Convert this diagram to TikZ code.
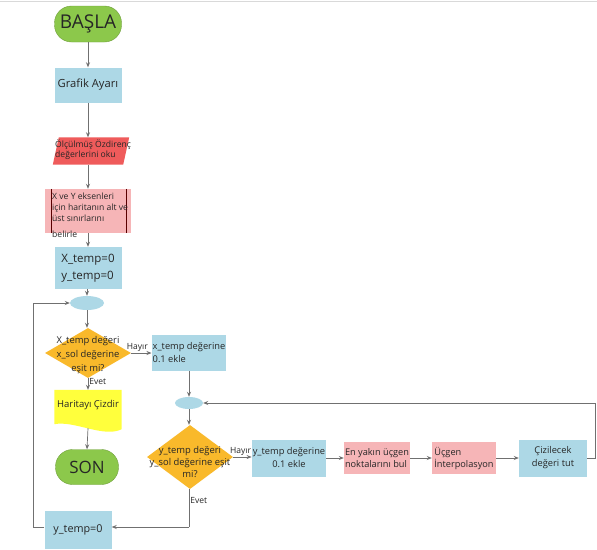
\documentclass[tikz,border=0pt]{standalone}
\usepackage{fontspec}
\setmainfont{Open Sans}
\usetikzlibrary{shapes.geometric,arrows.meta}
\definecolor{tgreen}{HTML}{8CC84B}
\definecolor{lblue}{HTML}{ADD8E6}
\definecolor{pred}{HTML}{EF5B5B}
\definecolor{lpink}{HTML}{F6B5B7}
\definecolor{dorange}{HTML}{F9B92B}
\definecolor{dyellow}{HTML}{FFFF3C}
\definecolor{arr}{HTML}{707070}
\begin{document}
\begin{tikzpicture}[x=1pt,y=-1pt,
  every node/.style={inner sep=1pt, text=black!85},
  term/.style={rectangle, rounded corners=17pt, fill=tgreen, draw=tgreen!80!black, line width=0.4pt, minimum width=67pt, minimum height=36pt},
  bbox/.style={rectangle, fill=lblue, minimum width=67pt, minimum height=36pt, font=\fontsize{9.3}{13}\selectfont, align=center},
  pbox/.style={rectangle, fill=lpink, minimum width=64pt, minimum height=32pt, font=\fontsize{9.2}{12}\selectfont, align=left},
  conn/.style={ellipse, fill=lblue, minimum width=34pt, minimum height=14pt, inner sep=0pt},
  dia/.style={diamond, fill=dorange, minimum width=86pt, minimum height=48pt, inner sep=0pt},
  dtext/.style={font=\fontsize{9.4}{12}\selectfont, align=center},
  lab/.style={font=\fontsize{8.5}{10}\selectfont},
  flow/.style={draw=arr, line width=0.7pt, -{Stealth[length=5pt,width=4pt]}},
  line/.style={draw=arr, line width=0.7pt}
]
\useasboundingbox[fill=white] (0,0) rectangle (597,549);
\draw[black!15, line width=0.5pt] (0,1.5) -- (597,1.5);

% left column
\node[term, font=\fontsize{19}{21}\selectfont] (basla) at (88,24) {BAŞLA};
\node[bbox, minimum height=35pt, font=\fontsize{11.2}{13}\selectfont] (grafik) at (88,85) {Grafik Ayarı};
\node[rectangle, minimum width=76pt, minimum height=27pt, inner sep=0pt] (oku) at (91,151) {};
\fill[pred] ([xshift=6pt]oku.north west) -- (oku.north east) -- ([xshift=-6pt]oku.south east) -- (oku.south west) -- cycle;
\node[font=\fontsize{8.6}{10}\selectfont, align=left, anchor=west] (okut) at (54,150) {Ölçülmüş Özdirenç\\değerlerini oku};
\node[rectangle, fill=lpink, minimum width=86pt, minimum height=44pt] (sinir) at (88,211) {};
\draw[red!35!black, line width=0.8pt] ([xshift=7pt]sinir.north west) -- ([xshift=7pt]sinir.south west);
\draw[red!35!black, line width=0.8pt] ([xshift=-5pt]sinir.north east) -- ([xshift=-5pt]sinir.south east);
\node[font=\fontsize{8.6}{11}\selectfont, align=left, anchor=north west] (sinirt) at (51,192) {X ve Y eksenleri\\için haritanın alt ve\\üst sınırlarını\\[5pt]belirle};
\node[bbox, minimum width=67pt, minimum height=42pt, font=\fontsize{11.5}{17}\selectfont, align=left] (xtemp) at (88,268) {X\_temp=0\\y\_temp=0};
\node[conn] (c1) at (87,303) {};
\node[dia, minimum width=86pt, minimum height=50pt] (d1) at (88,353) {};
\node[dtext, font=\fontsize{9.4}{14}\selectfont] (d1t) at (88,355) {X\_temp değeri\\x\_sol değerine\\eşit mi?};
\node[bbox, minimum width=68pt, minimum height=36pt, align=left] (xadd) at (189,353) {x\_temp değerine\\0.1 ekle};
\node[rectangle, minimum width=67pt, minimum height=36pt] (harita) at (88,408) {};
\fill[dyellow] (harita.north west) -- (harita.north east) -- ([yshift=-3pt]harita.south east)
  .. controls ([xshift=-18pt,yshift=-12pt]harita.south east) and ([xshift=20pt,yshift=6pt]harita.south west) .. ([yshift=2pt]harita.south west) -- cycle;
\node[font=\fontsize{9.5}{11}\selectfont] (haritat) at (88,405) {Haritayı Çizdir};
\node[term, minimum width=63pt, minimum height=35pt, font=\fontsize{17}{19}\selectfont] (son) at (87,467) {SON};
\node[bbox, minimum width=67pt, minimum height=38pt, font=\fontsize{10.8}{13}\selectfont] (yzero) at (78,530) {y\_temp=0};

% right part
\node[conn, minimum width=28pt, minimum height=12pt] (c2) at (189,403) {};
\node[dia, minimum width=86pt, minimum height=64pt] (d2) at (190,457) {};
\node[dtext] (d2t) at (190,462) {y\_temp değeri\\y\_sol değerine eşit\\mi?};
\node[bbox, minimum width=67pt, minimum height=37pt] (yadd) at (289,458) {y\_temp değerine\\0.1 ekle};
\node[pbox] (enyakin) at (377,458) {En yakın üçgen\\noktalarını bul};
\node[pbox] (interp) at (464,458) {Üçgen\\İnterpolasyon};
\node[bbox, minimum width=68pt, minimum height=37pt] (cizil) at (553,458) {Çizilecek\\değeri tut};
\coordinate (rc) at (595,458);
\coordinate (rt) at (595,403);
\coordinate (lb) at (33,527);
\coordinate (lt) at (33,303);
\coordinate (bb) at (189,527);

% connectors
\draw[flow] (basla) -- (grafik);
\draw[flow] (grafik.south) -- (grafik.south |- oku.north);
\draw[flow] (grafik.south |- oku.south) -- (grafik.south |- sinir.north);
\draw[flow] (sinir.south) -- (xtemp.north);
\draw[flow] (xtemp.south -| c1.north) -- (c1.north);
\draw[flow] (c1.south) -- (c1.south |- d1.north);
\draw[flow] (d1.east) -- node[lab, above, pos=0.3] {Hayır} (d1.east -| xadd.west);
\draw[flow] (d1.south) -- node[lab, right, pos=0.3] {Evet} (harita.north);
\draw[flow] ([yshift=-2pt]harita.south) -- (son.north);
\draw[flow] (xadd.south -| c2.north) -- (c2.north);
\draw[flow] (c2.south) -- (c2.south |- d2.north);
\draw[flow] (d2.east) -- node[lab, above, pos=0.4] {Hayır} (d2.east -| yadd.west);
\draw[flow] (yadd) -- (enyakin);
\draw[flow] (enyakin) -- (interp);
\draw[flow] (interp) -- (cizil);
\draw[line] (cizil.east) -- (rc) -- (rt);
\draw[flow] (rt) -- (c2.east);
\draw[line] (d2.south -| c2.south) -- node[lab, right, pos=0.3] {Evet} (bb);
\draw[flow] (bb) -- (yzero.east |- bb);
\draw[line] (yzero.west |- lb) -- (lb) -- (lt);
\draw[flow] (lt) -- (c1.west);
\end{tikzpicture}
\end{document}
